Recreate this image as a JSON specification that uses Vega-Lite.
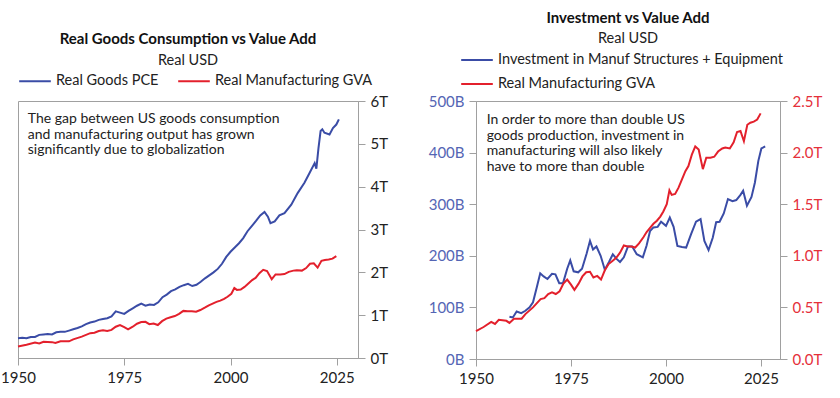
{
  "$schema": "https://vega.github.io/schema/vega-lite/v6.json",
  "padding": {"left": 0, "top": 10, "right": 5, "bottom": 5},
  "background": "white",
  "spacing": 38,
  "config": {
    "font": "Lato",
    "view": {"stroke": "#a0a0a0", "strokeWidth": 1},
    "axis": {"grid": false, "domainColor": "#a0a0a0", "tickColor": "#a0a0a0", "tickSize": 7, "labelFontSize": 15, "labelColor": "#222222", "labelPadding": 5, "title": null, "labelFont": "Lato", "labelFlush": false, "labelOverlap": false},
    "title": {"fontSize": 15, "fontWeight": "bold", "color": "#111111", "subtitleFontSize": 14.5, "subtitleColor": "#222222", "anchor": "middle", "subtitlePadding": 5, "offset": -6, "font": "Lato", "subtitleFont": "Lato"},
    "legend": {"orient": "top", "labelFontSize": 14.5, "labelColor": "#222222", "symbolType": "stroke", "symbolStrokeWidth": 2, "symbolSize": 1000, "title": null, "labelFont": "Lato", "columnPadding": 15, "rowPadding": -7, "offset": 13, "labelLimit": 500}
  },
  "resolve": {"scale": {"color": "independent"}},
  "datasets": {
    "pce": [
      {"year": 1950, "value": 0.46, "series": "Real Goods PCE"},
      {"year": 1951, "value": 0.47, "series": "Real Goods PCE"},
      {"year": 1952, "value": 0.46, "series": "Real Goods PCE"},
      {"year": 1953, "value": 0.49, "series": "Real Goods PCE"},
      {"year": 1954, "value": 0.49, "series": "Real Goods PCE"},
      {"year": 1955, "value": 0.54, "series": "Real Goods PCE"},
      {"year": 1956, "value": 0.55, "series": "Real Goods PCE"},
      {"year": 1957, "value": 0.56, "series": "Real Goods PCE"},
      {"year": 1958, "value": 0.55, "series": "Real Goods PCE"},
      {"year": 1959, "value": 0.6, "series": "Real Goods PCE"},
      {"year": 1960, "value": 0.61, "series": "Real Goods PCE"},
      {"year": 1961, "value": 0.61, "series": "Real Goods PCE"},
      {"year": 1962, "value": 0.64, "series": "Real Goods PCE"},
      {"year": 1963, "value": 0.67, "series": "Real Goods PCE"},
      {"year": 1964, "value": 0.7, "series": "Real Goods PCE"},
      {"year": 1965, "value": 0.74, "series": "Real Goods PCE"},
      {"year": 1966, "value": 0.79, "series": "Real Goods PCE"},
      {"year": 1967, "value": 0.83, "series": "Real Goods PCE"},
      {"year": 1968, "value": 0.85, "series": "Real Goods PCE"},
      {"year": 1969, "value": 0.89, "series": "Real Goods PCE"},
      {"year": 1970, "value": 0.91, "series": "Real Goods PCE"},
      {"year": 1971, "value": 0.93, "series": "Real Goods PCE"},
      {"year": 1972, "value": 0.97, "series": "Real Goods PCE"},
      {"year": 1973, "value": 1.09, "series": "Real Goods PCE"},
      {"year": 1974, "value": 1.06, "series": "Real Goods PCE"},
      {"year": 1975, "value": 1.03, "series": "Real Goods PCE"},
      {"year": 1976, "value": 1.1, "series": "Real Goods PCE"},
      {"year": 1977, "value": 1.16, "series": "Real Goods PCE"},
      {"year": 1978, "value": 1.22, "series": "Real Goods PCE"},
      {"year": 1979, "value": 1.27, "series": "Real Goods PCE"},
      {"year": 1980, "value": 1.22, "series": "Real Goods PCE"},
      {"year": 1981, "value": 1.25, "series": "Real Goods PCE"},
      {"year": 1982, "value": 1.24, "series": "Real Goods PCE"},
      {"year": 1983, "value": 1.3, "series": "Real Goods PCE"},
      {"year": 1984, "value": 1.42, "series": "Real Goods PCE"},
      {"year": 1985, "value": 1.48, "series": "Real Goods PCE"},
      {"year": 1986, "value": 1.56, "series": "Real Goods PCE"},
      {"year": 1987, "value": 1.6, "series": "Real Goods PCE"},
      {"year": 1988, "value": 1.66, "series": "Real Goods PCE"},
      {"year": 1989, "value": 1.7, "series": "Real Goods PCE"},
      {"year": 1990, "value": 1.73, "series": "Real Goods PCE"},
      {"year": 1991, "value": 1.68, "series": "Real Goods PCE"},
      {"year": 1992, "value": 1.71, "series": "Real Goods PCE"},
      {"year": 1993, "value": 1.78, "series": "Real Goods PCE"},
      {"year": 1994, "value": 1.86, "series": "Real Goods PCE"},
      {"year": 1995, "value": 1.93, "series": "Real Goods PCE"},
      {"year": 1996, "value": 2.0, "series": "Real Goods PCE"},
      {"year": 1997, "value": 2.08, "series": "Real Goods PCE"},
      {"year": 1998, "value": 2.2, "series": "Real Goods PCE"},
      {"year": 1999, "value": 2.36, "series": "Real Goods PCE"},
      {"year": 2000, "value": 2.48, "series": "Real Goods PCE"},
      {"year": 2001, "value": 2.58, "series": "Real Goods PCE"},
      {"year": 2002, "value": 2.68, "series": "Real Goods PCE"},
      {"year": 2003, "value": 2.8, "series": "Real Goods PCE"},
      {"year": 2004, "value": 2.96, "series": "Real Goods PCE"},
      {"year": 2005, "value": 3.08, "series": "Real Goods PCE"},
      {"year": 2006, "value": 3.2, "series": "Real Goods PCE"},
      {"year": 2007, "value": 3.33, "series": "Real Goods PCE"},
      {"year": 2008, "value": 3.41, "series": "Real Goods PCE"},
      {"year": 2008.8, "value": 3.3, "series": "Real Goods PCE"},
      {"year": 2009.4, "value": 3.15, "series": "Real Goods PCE"},
      {"year": 2010.4, "value": 3.19, "series": "Real Goods PCE"},
      {"year": 2011.5, "value": 3.33, "series": "Real Goods PCE"},
      {"year": 2012.7, "value": 3.38, "series": "Real Goods PCE"},
      {"year": 2014.3, "value": 3.58, "series": "Real Goods PCE"},
      {"year": 2015.8, "value": 3.85, "series": "Real Goods PCE"},
      {"year": 2017.4, "value": 4.09, "series": "Real Goods PCE"},
      {"year": 2018.6, "value": 4.32, "series": "Real Goods PCE"},
      {"year": 2019.8, "value": 4.55, "series": "Real Goods PCE"},
      {"year": 2020.2, "value": 4.42, "series": "Real Goods PCE"},
      {"year": 2020.7, "value": 4.9, "series": "Real Goods PCE"},
      {"year": 2021.2, "value": 5.3, "series": "Real Goods PCE"},
      {"year": 2021.6, "value": 5.34, "series": "Real Goods PCE"},
      {"year": 2022.1, "value": 5.26, "series": "Real Goods PCE"},
      {"year": 2023.3, "value": 5.22, "series": "Real Goods PCE"},
      {"year": 2024.1, "value": 5.37, "series": "Real Goods PCE"},
      {"year": 2024.9, "value": 5.45, "series": "Real Goods PCE"},
      {"year": 2025.5, "value": 5.57, "series": "Real Goods PCE"}
    ],
    "gva": [
      {"year": 1950, "value": 0.27, "series": "Real Manufacturing GVA"},
      {"year": 1952, "value": 0.31, "series": "Real Manufacturing GVA"},
      {"year": 1954, "value": 0.36, "series": "Real Manufacturing GVA"},
      {"year": 1955, "value": 0.34, "series": "Real Manufacturing GVA"},
      {"year": 1956, "value": 0.38, "series": "Real Manufacturing GVA"},
      {"year": 1958, "value": 0.37, "series": "Real Manufacturing GVA"},
      {"year": 1958.8, "value": 0.35, "series": "Real Manufacturing GVA"},
      {"year": 1960, "value": 0.39, "series": "Real Manufacturing GVA"},
      {"year": 1962, "value": 0.39, "series": "Real Manufacturing GVA"},
      {"year": 1963, "value": 0.435, "series": "Real Manufacturing GVA"},
      {"year": 1965, "value": 0.5, "series": "Real Manufacturing GVA"},
      {"year": 1967, "value": 0.58, "series": "Real Manufacturing GVA"},
      {"year": 1968, "value": 0.59, "series": "Real Manufacturing GVA"},
      {"year": 1969, "value": 0.63, "series": "Real Manufacturing GVA"},
      {"year": 1970, "value": 0.646, "series": "Real Manufacturing GVA"},
      {"year": 1971, "value": 0.63, "series": "Real Manufacturing GVA"},
      {"year": 1972, "value": 0.656, "series": "Real Manufacturing GVA"},
      {"year": 1973, "value": 0.73, "series": "Real Manufacturing GVA"},
      {"year": 1974, "value": 0.77, "series": "Real Manufacturing GVA"},
      {"year": 1975, "value": 0.72, "series": "Real Manufacturing GVA"},
      {"year": 1975.9, "value": 0.67, "series": "Real Manufacturing GVA"},
      {"year": 1977, "value": 0.73, "series": "Real Manufacturing GVA"},
      {"year": 1978, "value": 0.8, "series": "Real Manufacturing GVA"},
      {"year": 1979, "value": 0.84, "series": "Real Manufacturing GVA"},
      {"year": 1980, "value": 0.845, "series": "Real Manufacturing GVA"},
      {"year": 1980.9, "value": 0.79, "series": "Real Manufacturing GVA"},
      {"year": 1981.9, "value": 0.805, "series": "Real Manufacturing GVA"},
      {"year": 1982.9, "value": 0.77, "series": "Real Manufacturing GVA"},
      {"year": 1983.9, "value": 0.86, "series": "Real Manufacturing GVA"},
      {"year": 1984.9, "value": 0.92, "series": "Real Manufacturing GVA"},
      {"year": 1985.9, "value": 0.95, "series": "Real Manufacturing GVA"},
      {"year": 1986.9, "value": 0.98, "series": "Real Manufacturing GVA"},
      {"year": 1987.9, "value": 1.03, "series": "Real Manufacturing GVA"},
      {"year": 1988.9, "value": 1.1, "series": "Real Manufacturing GVA"},
      {"year": 1989.9, "value": 1.09, "series": "Real Manufacturing GVA"},
      {"year": 1990.9, "value": 1.09, "series": "Real Manufacturing GVA"},
      {"year": 1991.9, "value": 1.08, "series": "Real Manufacturing GVA"},
      {"year": 1992.9, "value": 1.12, "series": "Real Manufacturing GVA"},
      {"year": 1994.05, "value": 1.18, "series": "Real Manufacturing GVA"},
      {"year": 1994.9, "value": 1.23, "series": "Real Manufacturing GVA"},
      {"year": 1995.8, "value": 1.27, "series": "Real Manufacturing GVA"},
      {"year": 1996.7, "value": 1.31, "series": "Real Manufacturing GVA"},
      {"year": 1997.6, "value": 1.34, "series": "Real Manufacturing GVA"},
      {"year": 1998.5, "value": 1.38, "series": "Real Manufacturing GVA"},
      {"year": 1999.3, "value": 1.43, "series": "Real Manufacturing GVA"},
      {"year": 2000.2, "value": 1.5, "series": "Real Manufacturing GVA"},
      {"year": 2000.9, "value": 1.635, "series": "Real Manufacturing GVA"},
      {"year": 2001.5, "value": 1.59, "series": "Real Manufacturing GVA"},
      {"year": 2002.4, "value": 1.6, "series": "Real Manufacturing GVA"},
      {"year": 2003.3, "value": 1.66, "series": "Real Manufacturing GVA"},
      {"year": 2004.2, "value": 1.74, "series": "Real Manufacturing GVA"},
      {"year": 2005.1, "value": 1.82, "series": "Real Manufacturing GVA"},
      {"year": 2005.9, "value": 1.87, "series": "Real Manufacturing GVA"},
      {"year": 2006.8, "value": 1.98, "series": "Real Manufacturing GVA"},
      {"year": 2007.7, "value": 2.06, "series": "Real Manufacturing GVA"},
      {"year": 2008.6, "value": 2.03, "series": "Real Manufacturing GVA"},
      {"year": 2009.7, "value": 1.84, "series": "Real Manufacturing GVA"},
      {"year": 2010.6, "value": 1.95, "series": "Real Manufacturing GVA"},
      {"year": 2011.7, "value": 1.95, "series": "Real Manufacturing GVA"},
      {"year": 2012.7, "value": 1.96, "series": "Real Manufacturing GVA"},
      {"year": 2013.7, "value": 2.01, "series": "Real Manufacturing GVA"},
      {"year": 2014.8, "value": 2.04, "series": "Real Manufacturing GVA"},
      {"year": 2015.6, "value": 2.05, "series": "Real Manufacturing GVA"},
      {"year": 2016.8, "value": 2.04, "series": "Real Manufacturing GVA"},
      {"year": 2017.8, "value": 2.1, "series": "Real Manufacturing GVA"},
      {"year": 2018.7, "value": 2.2, "series": "Real Manufacturing GVA"},
      {"year": 2019.6, "value": 2.21, "series": "Real Manufacturing GVA"},
      {"year": 2020.5, "value": 2.11, "series": "Real Manufacturing GVA"},
      {"year": 2021.4, "value": 2.27, "series": "Real Manufacturing GVA"},
      {"year": 2022.2, "value": 2.29, "series": "Real Manufacturing GVA"},
      {"year": 2023.1, "value": 2.3, "series": "Real Manufacturing GVA"},
      {"year": 2024, "value": 2.32, "series": "Real Manufacturing GVA"},
      {"year": 2024.9, "value": 2.38, "series": "Real Manufacturing GVA"}
    ],
    "inv": [
      {"year": 1958.8, "value": 82, "series": "Investment in Manuf Structures + Equipment"},
      {"year": 1959.7, "value": 80.5, "series": "Investment in Manuf Structures + Equipment"},
      {"year": 1960.7, "value": 92, "series": "Investment in Manuf Structures + Equipment"},
      {"year": 1961.9, "value": 89, "series": "Investment in Manuf Structures + Equipment"},
      {"year": 1963, "value": 93.5, "series": "Investment in Manuf Structures + Equipment"},
      {"year": 1964.1, "value": 100, "series": "Investment in Manuf Structures + Equipment"},
      {"year": 1965, "value": 110, "series": "Investment in Manuf Structures + Equipment"},
      {"year": 1966, "value": 139, "series": "Investment in Manuf Structures + Equipment"},
      {"year": 1966.9, "value": 166, "series": "Investment in Manuf Structures + Equipment"},
      {"year": 1967.8, "value": 160, "series": "Investment in Manuf Structures + Equipment"},
      {"year": 1968.8, "value": 155, "series": "Investment in Manuf Structures + Equipment"},
      {"year": 1970, "value": 165, "series": "Investment in Manuf Structures + Equipment"},
      {"year": 1970.9, "value": 164, "series": "Investment in Manuf Structures + Equipment"},
      {"year": 1971.9, "value": 147, "series": "Investment in Manuf Structures + Equipment"},
      {"year": 1972.9, "value": 147, "series": "Investment in Manuf Structures + Equipment"},
      {"year": 1974, "value": 175, "series": "Investment in Manuf Structures + Equipment"},
      {"year": 1974.8, "value": 191, "series": "Investment in Manuf Structures + Equipment"},
      {"year": 1975.7, "value": 170, "series": "Investment in Manuf Structures + Equipment"},
      {"year": 1976.9, "value": 168, "series": "Investment in Manuf Structures + Equipment"},
      {"year": 1977.9, "value": 175, "series": "Investment in Manuf Structures + Equipment"},
      {"year": 1979.1, "value": 204, "series": "Investment in Manuf Structures + Equipment"},
      {"year": 1980, "value": 229, "series": "Investment in Manuf Structures + Equipment"},
      {"year": 1980.8, "value": 212, "series": "Investment in Manuf Structures + Equipment"},
      {"year": 1981.7, "value": 218, "series": "Investment in Manuf Structures + Equipment"},
      {"year": 1982.8, "value": 200, "series": "Investment in Manuf Structures + Equipment"},
      {"year": 1983.9, "value": 173, "series": "Investment in Manuf Structures + Equipment"},
      {"year": 1985, "value": 188, "series": "Investment in Manuf Structures + Equipment"},
      {"year": 1986, "value": 203, "series": "Investment in Manuf Structures + Equipment"},
      {"year": 1987, "value": 194, "series": "Investment in Manuf Structures + Equipment"},
      {"year": 1987.9, "value": 188, "series": "Investment in Manuf Structures + Equipment"},
      {"year": 1988.9, "value": 197, "series": "Investment in Manuf Structures + Equipment"},
      {"year": 1990, "value": 218, "series": "Investment in Manuf Structures + Equipment"},
      {"year": 1991.1, "value": 218, "series": "Investment in Manuf Structures + Equipment"},
      {"year": 1992.3, "value": 203, "series": "Investment in Manuf Structures + Equipment"},
      {"year": 1993.9, "value": 197, "series": "Investment in Manuf Structures + Equipment"},
      {"year": 1994.9, "value": 220, "series": "Investment in Manuf Structures + Equipment"},
      {"year": 1995.8, "value": 248, "series": "Investment in Manuf Structures + Equipment"},
      {"year": 1996.7, "value": 255, "series": "Investment in Manuf Structures + Equipment"},
      {"year": 1997.8, "value": 256, "series": "Investment in Manuf Structures + Equipment"},
      {"year": 1998.7, "value": 266, "series": "Investment in Manuf Structures + Equipment"},
      {"year": 2000, "value": 258, "series": "Investment in Manuf Structures + Equipment"},
      {"year": 2001, "value": 274, "series": "Investment in Manuf Structures + Equipment"},
      {"year": 2002, "value": 256, "series": "Investment in Manuf Structures + Equipment"},
      {"year": 2003, "value": 219, "series": "Investment in Manuf Structures + Equipment"},
      {"year": 2004.2, "value": 217, "series": "Investment in Manuf Structures + Equipment"},
      {"year": 2005.3, "value": 216, "series": "Investment in Manuf Structures + Equipment"},
      {"year": 2006.6, "value": 242, "series": "Investment in Manuf Structures + Equipment"},
      {"year": 2007.9, "value": 266, "series": "Investment in Manuf Structures + Equipment"},
      {"year": 2009.1, "value": 271, "series": "Investment in Manuf Structures + Equipment"},
      {"year": 2010.1, "value": 229, "series": "Investment in Manuf Structures + Equipment"},
      {"year": 2011.2, "value": 211, "series": "Investment in Manuf Structures + Equipment"},
      {"year": 2012.3, "value": 235, "series": "Investment in Manuf Structures + Equipment"},
      {"year": 2013.2, "value": 265, "series": "Investment in Manuf Structures + Equipment"},
      {"year": 2014.1, "value": 266, "series": "Investment in Manuf Structures + Equipment"},
      {"year": 2015.2, "value": 282, "series": "Investment in Manuf Structures + Equipment"},
      {"year": 2016.3, "value": 310, "series": "Investment in Manuf Structures + Equipment"},
      {"year": 2017.5, "value": 306, "series": "Investment in Manuf Structures + Equipment"},
      {"year": 2018.5, "value": 308, "series": "Investment in Manuf Structures + Equipment"},
      {"year": 2019.6, "value": 318, "series": "Investment in Manuf Structures + Equipment"},
      {"year": 2020.3, "value": 326, "series": "Investment in Manuf Structures + Equipment"},
      {"year": 2021.3, "value": 297, "series": "Investment in Manuf Structures + Equipment"},
      {"year": 2022.5, "value": 314, "series": "Investment in Manuf Structures + Equipment"},
      {"year": 2023.4, "value": 342, "series": "Investment in Manuf Structures + Equipment"},
      {"year": 2024.3, "value": 384, "series": "Investment in Manuf Structures + Equipment"},
      {"year": 2025.1, "value": 408, "series": "Investment in Manuf Structures + Equipment"},
      {"year": 2026.1, "value": 412, "series": "Investment in Manuf Structures + Equipment"}
    ]
  },
  "hconcat": [
    {
      "width": 340,
      "height": 257,
      "title": {"text": "Real Goods Consumption vs Value Add", "subtitle": "Real USD", "offset": -3, "subtitlePadding": 7},
      "layer": [
        {
          "data": {"name": "gva"},
          "mark": {"type": "line", "strokeWidth": 2},
          "encoding": {
            "x": {"field": "year", "type": "quantitative", "scale": {"domain": [1950, 2030], "nice": false, "zero": false}, "axis": {"values": [1950, 1975, 2000, 2025], "format": "d"}},
            "y": {"field": "value", "type": "quantitative", "scale": {"domain": [0, 6], "nice": false}, "axis": {"orient": "right", "values": [0, 1, 2, 3, 4, 5, 6], "labelExpr": "datum.value + 'T'"}},
            "color": {"field": "series", "type": "nominal", "scale": {"domain": ["Real Goods PCE", "Real Manufacturing GVA"], "range": ["#3a4ca6", "#e3202c"]}, "legend": {"direction": "horizontal"}}
          }
        },
        {
          "data": {"name": "pce"},
          "mark": {"type": "line", "strokeWidth": 2},
          "encoding": {
            "x": {"field": "year", "type": "quantitative"},
            "y": {"field": "value", "type": "quantitative"},
            "color": {"field": "series", "type": "nominal"}
          }
        },
        {
          "data": {"values": [{"note": "annotation"}]},
          "mark": {"type": "text", "align": "left", "baseline": "top", "fontSize": 14, "lineHeight": 15.5, "color": "#222222", "font": "Lato", "text": ["The gap between US goods consumption", "and manufacturing output has grown", "significantly due to globalization"]},
          "encoding": {
            "x": {"datum": 1952.3, "type": "quantitative"},
            "y": {"datum": 5.74, "type": "quantitative"}
          }
        }
      ]
    },
    {
      "width": 304,
      "height": 258,
      "title": {"text": "Investment vs Value Add", "subtitle": "Real USD", "offset": -2, "subtitlePadding": 6},
      "layer": [
        {
          "layer": [
            {
              "data": {"name": "inv"},
              "mark": {"type": "line", "strokeWidth": 2},
              "encoding": {
                "x": {"field": "year", "type": "quantitative", "scale": {"domain": [1950, 2030], "nice": false, "zero": false}, "axis": {"values": [1950, 1975, 2000, 2025], "format": "d"}},
                "y": {"field": "value", "type": "quantitative", "scale": {"domain": [0, 500], "nice": false}, "axis": {"orient": "left", "values": [0, 100, 200, 300, 400, 500], "labelExpr": "datum.value + 'B'", "labelColor": "#5465b4"}},
                "color": {"field": "series", "type": "nominal", "scale": {"domain": ["Investment in Manuf Structures + Equipment", "Real Manufacturing GVA"], "range": ["#3a4ca6", "#e3202c"]}, "legend": {"direction": "vertical", "orient": "none", "legendX": -16, "legendY": -58}}
              }
            },
            {
              "data": {"values": [{"note": "annotation"}]},
              "mark": {"type": "text", "align": "left", "baseline": "top", "fontSize": 14, "lineHeight": 15.5, "color": "#222222", "font": "Lato", "text": ["In order to more than double US", "goods production, investment in", "manufacturing will also likely", "have to more than double"]},
              "encoding": {
                "x": {"datum": 1952.8, "type": "quantitative"},
                "y": {"datum": 476, "type": "quantitative"}
              }
            }
          ]
        },
        {
          "data": {"name": "gva"},
          "mark": {"type": "line", "strokeWidth": 2},
          "encoding": {
            "x": {"field": "year", "type": "quantitative"},
            "y": {"field": "value", "type": "quantitative", "scale": {"domain": [0, 2.5], "nice": false}, "axis": {"orient": "right", "values": [0, 0.5, 1, 1.5, 2, 2.5], "labelExpr": "format(datum.value, '.1f') + 'T'", "labelColor": "#e5303a"}},
            "color": {"field": "series", "type": "nominal"}
          }
        }
      ],
      "resolve": {"scale": {"y": "independent"}}
    }
  ]
}
